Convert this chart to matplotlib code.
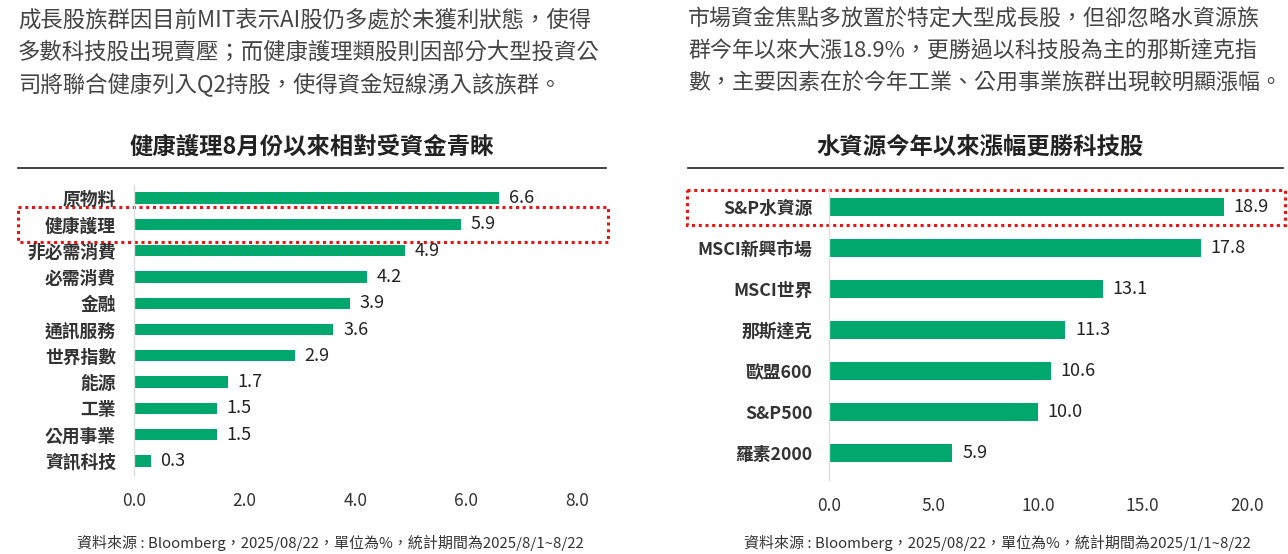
import numpy as np
import matplotlib
matplotlib.use('Agg')
import matplotlib.pyplot as plt
import matplotlib.transforms as mtransforms
from matplotlib.patches import Rectangle
from matplotlib.lines import Line2D

plt.rcParams['font.family'] = ['Noto Sans CJK TC', 'DejaVu Sans']

# left chart data
left_cats = ['原物料', '健康護理', '非必需消費', '必需消費', '金融', '通訊服務',
             '世界指數', '能源', '工業', '公用事業', '資訊科技']
left_vals = [6.6, 5.9, 4.9, 4.2, 3.9, 3.6, 2.9, 1.7, 1.5, 1.5, 0.3]
left_ticks = [0, 2, 4, 6, 8]

# right chart data
right_cats = ['S&P水資源', 'MSCI新興市場', 'MSCI世界', '那斯達克', '歐盟600', 'S&P500', '羅素2000']
right_vals = [18.9, 17.8, 13.1, 11.3, 10.6, 10.0, 5.9]
right_ticks = [0, 5, 10, 15, 20]

left_text = ['成長股族群因目前MIT表示AI股仍多處於未獲利狀態，使得',
             '多數科技股出現賣壓；而健康護理類股則因部分大型投資公',
             '司將聯合健康列入Q2持股，使得資金短線湧入該族群。']
right_text = ['市場資金焦點多放置於特定大型成長股，但卻忽略水資源族',
              '群今年以來大漲18.9%，更勝過以科技股為主的那斯達克指',
              '數，主要因素在於今年工業、公用事業族群出現較明顯漲幅。']

left_title = '健康護理8月份以來相對受資金青睞'
right_title = '水資源今年以來漲幅更勝科技股'
left_src = '資料來源 : Bloomberg，2025/08/22，單位為%，統計期間為2025/8/1~8/22'
right_src = '資料來源 : Bloomberg，2025/08/22，單位為%，統計期間為2025/1/1~8/22'

W, H = 1288, 554
green = '#00a86e'
fig = plt.figure(figsize=(W / 100, H / 100), dpi=100)


def px(x, y):
    return x / W, 1 - y / H


def make_axes(x0, x1, y0, y1):
    return fig.add_axes([x0 / W, 1 - y1 / H, (x1 - x0) / W, (y1 - y0) / H])


def bar_chart(ax, cats, vals, ticks, xmax, ylim, height, labpad, box):
    y = np.arange(len(cats))
    ax.barh(y, vals, height=height, color=green)
    ax.set_xlim(0, xmax)
    ax.set_ylim(*ylim)
    ax.set_yticks(y)
    ax.set_yticklabels(cats, fontsize=12.8, fontweight='bold', color='#333333')
    ax.set_xticks(ticks)
    ax.set_xticklabels(['%.1f' % t for t in ticks], fontsize=12.5, color='#333333')
    ax.tick_params(axis='y', length=0, pad=labpad)
    ax.tick_params(axis='x', length=0, pad=12)
    for s in ['top', 'right', 'bottom']:
        ax.spines[s].set_visible(False)
    ax.spines['left'].set_color('#dddddd')
    ax.spines['left'].set_linewidth(1)
    for yi, v in zip(y, vals):
        ax.annotate('%.1f' % v, (v, yi), xytext=(7, 0), textcoords='offset points',
                    va='center', ha='left', fontsize=13, color='#222222')
    # highlight box
    trans = mtransforms.blended_transform_factory(ax.transAxes, ax.transData)
    bx0, bx1, by0, by1 = box
    ax.add_patch(Rectangle((bx0, by0), bx1 - bx0, by1 - by0, transform=trans,
                           fill=False, edgecolor='#ee1111', linestyle=(0, (1, 1.2)),
                           linewidth=2.2, clip_on=False))


# left
axl = make_axes(134, 577, 185, 475)
bar_chart(axl, left_cats, left_vals, left_ticks, 8,
          (10.53, -0.494), 0.43, 13, (-0.262, 1.07, 0.34, 1.67))
# right
axr = make_axes(829, 1247, 188, 480)
bar_chart(axr, right_cats, right_vals, right_ticks, 20,
          (6.66, -0.463), 0.44, 12, (-0.340, 1.091, -0.42, 0.44))

# paragraphs
for i, line in enumerate(left_text):
    fig.text(*px(18, 20 + 32 * i), line, fontsize=16.1, color='#444444', va='center', ha='left')
for i, line in enumerate(right_text):
    fig.text(*px(688, 20 + 32 * i), line, fontsize=15.8, color='#444444', va='center', ha='left')

# titles and rules
fig.text(*px(312, 147), left_title, fontsize=16.8, fontweight='bold', color='#222222', ha='center', va='center')
fig.text(*px(980, 147), right_title, fontsize=16.8, fontweight='bold', color='#222222', ha='center', va='center')
fig.add_artist(Line2D([18 / W, 606 / W], [1 - 168 / H] * 2, color='#222222', lw=1.2))
fig.add_artist(Line2D([688 / W, 1283 / W], [1 - 168 / H] * 2, color='#222222', lw=1.2))

# sources
fig.text(*px(330, 543), left_src, fontsize=10.8, color='#333333', ha='center', va='center')
fig.text(*px(997, 543), right_src, fontsize=10.8, color='#333333', ha='center', va='center')

fig.savefig('out.png', dpi=100, facecolor='white')
